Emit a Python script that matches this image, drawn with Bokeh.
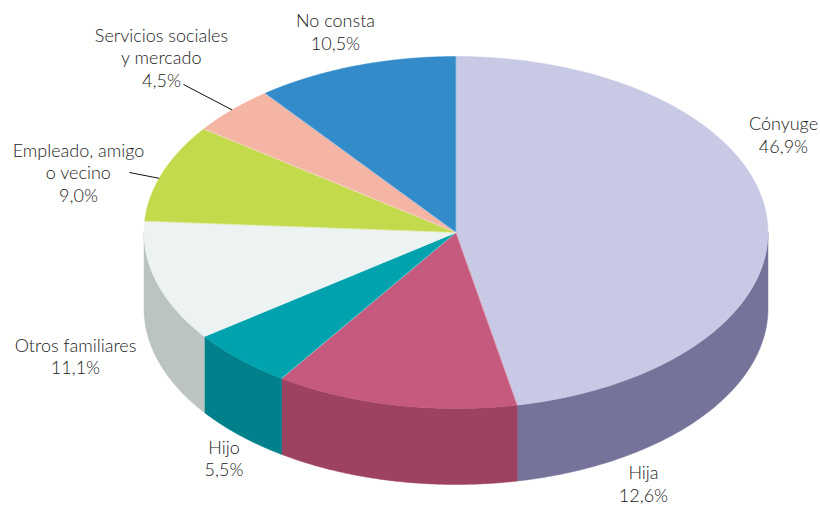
import numpy as np
from bokeh.plotting import figure
from bokeh.embed import file_html
from bokeh.resources import INLINE
from bokeh.core.properties import value

categories = ["Cónyuge", "Hija", "Hijo", "Otros familiares", "Empleado, amigo\no vecino", "Servicios sociales\ny mercado", "No consta"]
shares = [46.9, 12.6, 5.5, 11.1, 9.0, 4.5, 10.5]
pct_labels = ["46,9%", "12,6%", "5,5%", "11,1%", "9,0%", "4,5%", "10,5%"]
top_colors = ["#c8c9e4", "#c6597e", "#00a3ad", "#edf3f3", "#c3da4d", "#f5b5a5", "#338bc9"]
side_colors = ["#76739a", "#9d4361", "#00808a", "#bcc4c3", "#98aa3c", "#bf8d81", "#28699a"]
label_x = [783, 643, 223.5, 75, 78, 161, 335]
label_y = [134, 483, 457.5, 355.5, 171.5, 56.5, 31]

W, H = 820, 506
cx, cy, rx, ry, depth = 455.5, 232.0, 312.0, 176.0, 76.0
line_step = 22.5

p = figure(width=W, height=H, x_range=(0, W), y_range=(H, 0),
           output_backend="svg", toolbar_location=None, min_border=0,
           outline_line_color=None, background_fill_color="white", border_fill_color="white")
p.axis.visible = False
p.grid.visible = False

total = sum(shares)
edges = np.cumsum([0.0] + shares) / total * 2 * np.pi

def ell(t, dy=0.0):
    return cx + rx * np.sin(t), cy - ry * np.cos(t) + dy

for i in range(len(shares)):
    a, b = max(edges[i], np.pi / 2), min(edges[i + 1], 3 * np.pi / 2)
    if a < b:
        t = np.linspace(a, b, 120)
        x0, y0 = ell(t)
        x1, y1 = ell(t[::-1], depth)
        p.patch(np.r_[x0, x1], np.r_[y0, y1], fill_color=side_colors[i], line_color=side_colors[i], line_width=0.5)

for i in range(len(shares)):
    t = np.linspace(edges[i], edges[i + 1], 160)
    x0, y0 = ell(t)
    p.patch(np.r_[cx, x0], np.r_[cy, y0], fill_color=top_colors[i], line_color=top_colors[i], line_width=0.5)

# faint seams between the top slices
for e in edges[:-1]:
    xe, ye = ell(e)
    p.line([cx, xe], [cy, ye], line_color="white", line_alpha=0.5, line_width=0.75)

# leader lines from labels to the rim of their slices
x5, y5 = ell(edges[4] + 0.44 * (edges[5] - edges[4]))
x6, y6 = ell((edges[5] + edges[6]) / 2)
p.line([129, x5], [172, y5], line_color="#111111", line_width=1)
p.line([183, x6], [84, y6], line_color="#111111", line_width=1)

for c, pc, x, y in zip(categories, pct_labels, label_x, label_y):
    lines = c.split("\n") + [pc]
    ys = [y + (k - (len(lines) - 1) / 2) * line_step for k in range(len(lines))]
    p.text([x] * len(lines), ys, text=lines, text_align="center", text_baseline="middle",
           text_font=value("Lato Light"), text_font_size="18px", text_color="#222222")

open("out.html", "w").write(file_html(p, INLINE))
